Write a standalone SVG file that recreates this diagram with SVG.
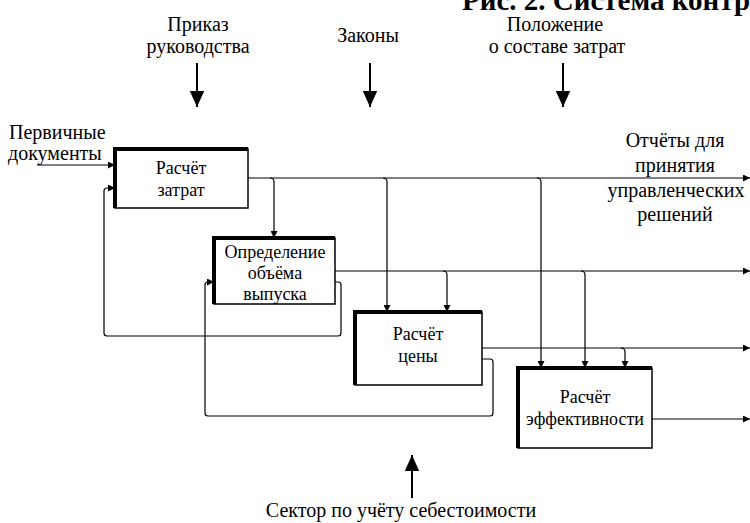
<svg xmlns="http://www.w3.org/2000/svg" width="750" height="523" viewBox="0 0 750 523">
<defs>
<style>
.t{font-family:"Liberation Serif","DejaVu Serif",serif;font-size:20px;fill:#000}
.b{font-family:"Liberation Serif","DejaVu Serif",serif;font-size:18px;fill:#000;text-anchor:middle}
.ttl{font-family:"Liberation Serif","DejaVu Serif",serif;font-size:29px;font-weight:bold;fill:#000}
.box{fill:#fff;stroke:#000;stroke-width:1.5}
.hv{fill:none;stroke:#000;stroke-width:4}
.c{fill:none;stroke:#000;stroke-width:1.2}
.big{fill:none;stroke:#000;stroke-width:2}
</style>
<marker id="a" viewBox="0 0 10 10" refX="10" refY="5" markerWidth="7" markerHeight="7" markerUnits="userSpaceOnUse" orient="auto">
<path d="M0,0 L10,5 L0,10 z" fill="#000"/>
</marker>
<marker id="A" viewBox="0 0 10 10" refX="10" refY="5" markerWidth="16" markerHeight="16" markerUnits="userSpaceOnUse" orient="auto">
<path d="M0,0.5 L10,5 L0,9.5 z" fill="#000"/>
</marker>
</defs>
<text class="ttl" x="462" y="10">Рис. 2. Система контр</text>
<g id="labels">
<text class="t" x="198" y="31" text-anchor="middle">Приказ</text>
<text class="t" x="198" y="53" text-anchor="middle">руководства</text>
<text class="t" x="368" y="42" text-anchor="middle">Законы</text>
<text class="t" x="555" y="31" text-anchor="middle">Положение</text>
<text class="t" x="557" y="53" text-anchor="middle">о составе затрат</text>
<text class="t" x="9" y="139">Первичные</text>
<text class="t" x="8" y="160">документы</text>
<text class="t" x="675" y="147" text-anchor="middle">Отчёты для</text>
<text class="t" x="675" y="172" text-anchor="middle">принятия</text>
<text class="t" x="676" y="197" text-anchor="middle">управленческих</text>
<text class="t" x="675" y="221" text-anchor="middle">решений</text>
<text class="t" x="401" y="517" text-anchor="middle">Сектор по учёту себестоимости</text>
</g>
<g id="connectors">
<path class="big" d="M197,63 V107" marker-end="url(#A)"/>
<path class="big" d="M370,63 V107" marker-end="url(#A)"/>
<path class="big" d="M563,63 V107" marker-end="url(#A)"/>
<path class="big" d="M412,498 V455" marker-end="url(#A)"/>
<path class="c" d="M37,165 H115" marker-end="url(#a)"/>
<path class="c" d="M248,178 H750" marker-end="url(#a)"/>
<path class="c" d="M270,178 q4,0 4,4 V238" marker-end="url(#a)"/>
<path class="c" d="M383,178 q4,0 4,4 V312" marker-end="url(#a)"/>
<path class="c" d="M537,178 q4,0 4,4 V368" marker-end="url(#a)"/>
<path class="c" d="M335,271 H750" marker-end="url(#a)"/>
<path class="c" d="M443,271 q4,0 4,4 V312" marker-end="url(#a)"/>
<path class="c" d="M581,271 q4,0 4,4 V368" marker-end="url(#a)"/>
<path class="c" d="M482,348 H750" marker-end="url(#a)"/>
<path class="c" d="M621,348 q4,0 4,4 V368" marker-end="url(#a)"/>
<path class="c" d="M652,419 H750" marker-end="url(#a)"/>
<path class="c" d="M335,282 H338 q3,0 3,3 V333 q0,3 -3,3 H107 q-3,0 -3,-3 V191 q0,-3 3,-3 H115" marker-end="url(#a)"/>
<path class="c" d="M482,359 H490 q3,0 3,3 V413 q0,3 -3,3 H208 q-3,0 -3,-3 V285 q0,-3 3,-3 H214" marker-end="url(#a)"/>
</g>
<g id="n1">
<rect class="box" x="115" y="149" width="133" height="59"/>
<path class="hv" d="M115,208 V149 H248"/>
<text class="b" x="181" y="174">Расчёт</text>
<text class="b" x="181" y="196">затрат</text>
</g>
<g id="n2">
<rect class="box" x="214" y="238" width="121" height="66"/>
<path class="hv" d="M214,304 V238 H335"/>
<text class="b" x="275" y="258">Определение</text>
<text class="b" x="275" y="279">объёма</text>
<text class="b" x="275" y="300">выпуска</text>
</g>
<g id="n3">
<rect class="box" x="355" y="312" width="127" height="73"/>
<path class="hv" d="M355,385 V312 H482"/>
<text class="b" x="418" y="340">Расчёт</text>
<text class="b" x="418" y="362">цены</text>
</g>
<g id="n4">
<rect class="box" x="518" y="368" width="134" height="80"/>
<path class="hv" d="M518,448 V368 H652"/>
<text class="b" x="585" y="403">Расчёт</text>
<text class="b" x="585" y="425">эффективности</text>
</g>
</svg>
